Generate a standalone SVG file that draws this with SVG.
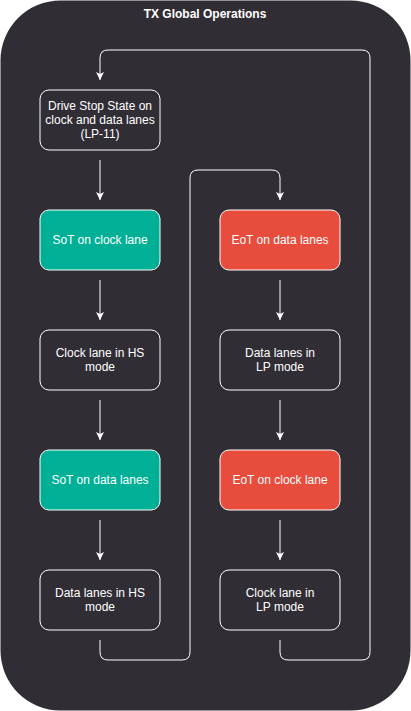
<svg xmlns="http://www.w3.org/2000/svg" width="411" height="711" viewBox="0 0 411 711">
<defs>
<style>
.node rect{stroke:#ffffff;stroke-width:1}
.plain rect{fill:#312d35}
.teal rect{fill:#00b096}
.red rect{fill:#e74c3c}
text{font-family:"Liberation Sans",Arial,sans-serif;font-size:12px;fill:#ffffff;text-anchor:middle}
.title{font-weight:bold}
.conn path{fill:none;stroke:#ffffff;stroke-width:1;marker-end:url(#arr)}
</style>
<marker id="arr" markerUnits="userSpaceOnUse" markerWidth="10" markerHeight="10" refX="8" refY="4" orient="auto">
<path d="M0,0 L8,4 L0,8 L2,4 Z" fill="#ffffff"/>
</marker>
</defs>
<g id="container">
<rect x="0.5" y="0.5" width="410" height="710" rx="60" ry="60" fill="#312d35"/>
<text class="title" x="205" y="18">TX Global Operations</text>
</g>
<g class="conn" id="connectors">
<path d="M100,160 L100,200"/>
<path d="M100,280 L100,320"/>
<path d="M100,400 L100,440"/>
<path d="M100,520 L100,560"/>
<path d="M280,280 L280,320"/>
<path d="M280,400 L280,440"/>
<path d="M280,520 L280,560"/>
<path d="M100,640 L100,652 Q100,660 108,660 L182,660 Q190,660 190,652 L190,178 Q190,170 198,170 L272,170 Q280,170 280,178 L280,200"/>
<path d="M280,640 L280,652 Q280,660 288,660 L362,660 Q370,660 370,652 L370,58 Q370,50 362,50 L108,50 Q100,50 100,58 L100,80"/>
</g>
<g id="drive-stop" class="node plain">
<rect x="40" y="90" width="120" height="60" rx="9"/>
<text x="100" y="110">Drive Stop State on</text>
<text x="100" y="124">clock and data lanes</text>
<text x="100" y="138">(LP-11)</text>
</g>
<g id="sot-clock" class="node teal">
<rect x="40" y="210" width="120" height="60" rx="9"/>
<text x="100" y="244">SoT on clock lane</text>
</g>
<g id="clock-hs" class="node plain">
<rect x="40" y="330" width="120" height="60" rx="9"/>
<text x="100" y="357">Clock lane in HS</text>
<text x="100" y="371">mode</text>
</g>
<g id="sot-data" class="node teal">
<rect x="40" y="450" width="120" height="60" rx="9"/>
<text x="100" y="484">SoT on data lanes</text>
</g>
<g id="data-hs" class="node plain">
<rect x="40" y="570" width="120" height="60" rx="9"/>
<text x="100" y="597">Data lanes in HS</text>
<text x="100" y="611">mode</text>
</g>
<g id="eot-data" class="node red">
<rect x="220" y="210" width="120" height="60" rx="9"/>
<text x="280" y="244">EoT on data lanes</text>
</g>
<g id="data-lp" class="node plain">
<rect x="220" y="330" width="120" height="60" rx="9"/>
<text x="280" y="357">Data lanes in</text>
<text x="280" y="371">LP mode</text>
</g>
<g id="eot-clock" class="node red">
<rect x="220" y="450" width="120" height="60" rx="9"/>
<text x="280" y="484">EoT on clock lane</text>
</g>
<g id="clock-lp" class="node plain">
<rect x="220" y="570" width="120" height="60" rx="9"/>
<text x="280" y="597">Clock lane in</text>
<text x="280" y="611">LP mode</text>
</g>
</svg>
